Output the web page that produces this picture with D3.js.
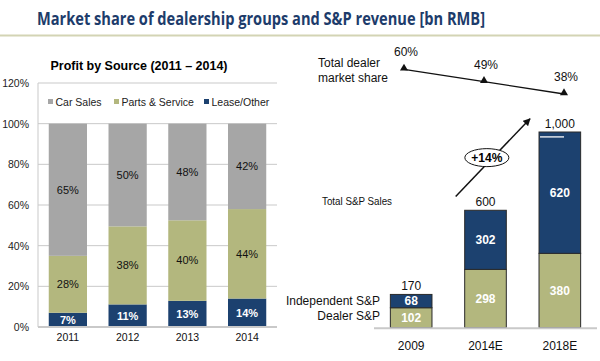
<!DOCTYPE html>
<html>
<head>
<meta charset="utf-8">
<script src="https://cdnjs.cloudflare.com/ajax/libs/d3/7.8.5/d3.min.js"></script>
<style>
  body { margin: 0; background: #fff; }
  svg { display: block; font-family: "Liberation Sans", Arial, sans-serif; }
</style>
</head>
<body>
<svg width="600" height="361"></svg>
<script>
// left chart data: profit by source (%)
var years = ["2011", "2012", "2013", "2014"];
var carSales = [65, 50, 48, 42];
var partsService = [28, 38, 40, 44];
var leaseOther = [7, 11, 13, 14];
var pctTicks = [0, 0.2, 0.4, 0.6, 0.8, 1.0, 1.2];

// right chart data: S&P revenue (bn RMB) and dealer market share
var periods = ["2009", "2014E", "2018E"];
var dealerSP = [102, 298, 380];
var independentSP = [68, 302, 620];
var totalLabels = ["170", "600", "1,000"];
var marketShare = [60, 49, 38];

var navy = "#1c416f", olive = "#b3b77e", grey = "#a6a6a6";

var svg = d3.select("svg");

// titel bovenaan
svg.append("text")
  .attr("x", 261).attr("y", 25)
  .attr("text-anchor", "middle")
  .attr("font-family", "'Open Sans', sans-serif")
  .attr("font-weight", 700)
  .attr("font-size", 17.5)
  .attr("fill", "#1d3c6b")
  .attr("textLength", 448)
  .attr("lengthAdjust", "spacingAndGlyphs")
  .text("Market share of dealership groups and S&P revenue [bn RMB]");

svg.append("line")
  .attr("x1", 0).attr("x2", 600).attr("y1", 35.5).attr("y2", 35.5)
  .attr("stroke", "#d3d4b4").attr("stroke-width", 2);

// ---------- linker grafiek ----------
var left = svg.append("g");

left.append("text")
  .attr("x", 139).attr("y", 70)
  .attr("text-anchor", "middle")
  .attr("font-weight", "bold")
  .attr("font-size", 12)
  .attr("textLength", 177)
  .attr("lengthAdjust", "spacingAndGlyphs")
  .text("Profit by Source (2011 \u2013 2014)");

var x = d3.scaleBand().domain(years).range([38, 277]).paddingInner(0.36).paddingOuter(0.18);
var y = d3.scaleLinear().domain([0, 1.2]).range([327, 83]);

// gridlijnen
left.selectAll(".grid")
  .data(pctTicks.slice(1))
  .enter().append("line")
    .attr("x1", 38).attr("x2", 277)
    .attr("y1", function(d) { return y(d); })
    .attr("y2", function(d) { return y(d); })
    .attr("stroke", "#c9c9c9");

left.append("line")
  .attr("x1", 38).attr("x2", 38).attr("y1", y(1.2)).attr("y2", y(0))
  .attr("stroke", "#c9c9c9");

left.append("g")
  .attr("transform", "translate(29,0)")
  .call(d3.axisLeft(y).tickValues(pctTicks).tickFormat(d3.format(".0%")).tickSize(0).tickPadding(0))
  .call(function(g) {
    g.select(".domain").remove();
    g.selectAll("text").attr("font-size", 10.5).attr("fill", "#222").attr("font-family", "'Liberation Sans', Arial, sans-serif");
  });

var rows = years.map(function(yr, i) {
  return { year: yr, lease: leaseOther[i], parts: partsService[i], car: carSales[i] };
});
var keys = ["lease", "parts", "car"];
var colors = { lease: navy, parts: olive, car: grey };
var stacked = d3.stack().keys(keys).offset(d3.stackOffsetExpand)(rows);

var layer = left.selectAll(".layer")
  .data(stacked)
  .enter().append("g")
    .attr("fill", function(d) { return colors[d.key]; });

layer.selectAll("rect")
  .data(function(d) { return d; })
  .enter().append("rect")
    .attr("x", function(d) { return x(d.data.year); })
    .attr("y", function(d) { return y(d[1]); })
    .attr("width", x.bandwidth())
    .attr("height", function(d) { return y(d[0]) - y(d[1]); });

stacked.forEach(function(s) {
  left.selectAll(".lbl-" + s.key)
    .data(s)
    .enter().append("text")
      .attr("x", function(d) { return x(d.data.year) + x.bandwidth() / 2; })
      .attr("y", function(d) { return y((d[0] + d[1]) / 2); })
      .attr("dy", "0.35em")
      .attr("text-anchor", "middle")
      .attr("font-size", 11)
      .attr("font-weight", s.key === "lease" ? "bold" : "normal")
      .attr("fill", s.key === "lease" ? "#fff" : "#111")
      .text(function(d) { return d.data[s.key] + "%"; });
});

// baseline
left.append("line")
  .attr("x1", 38).attr("x2", 277).attr("y1", y(0)).attr("y2", y(0))
  .attr("stroke", "#c9c9c9").attr("stroke-width", 2);

left.append("g")
  .attr("transform", "translate(0," + (y(0) + 7) + ")")
  .call(d3.axisBottom(x).tickSize(0).tickPadding(0))
  .call(function(g) {
    g.select(".domain").remove();
    g.selectAll("text").attr("font-size", 10.5).attr("fill", "#111").attr("font-family", "'Liberation Sans', Arial, sans-serif");
  });

// legenda
var legend = [
  { name: "Car Sales", color: grey, x: 48 },
  { name: "Parts & Service", color: olive, x: 114 },
  { name: "Lease/Other", color: navy, x: 204 }
];
var lg = left.selectAll(".legend").data(legend).enter().append("g")
  .attr("transform", function(d) { return "translate(" + d.x + ",102)"; });
lg.append("rect").attr("x", 0).attr("y", -3).attr("width", 5).attr("height", 5).attr("fill", function(d) { return d.color; });
lg.append("text").attr("x", 7.5).attr("dy", "0.35em").attr("font-size", 10.5).attr("fill", "#222")
  .text(function(d) { return d.name; });

// ---------- rechter grafiek ----------
var right = svg.append("g");

var xr = d3.scaleBand().domain(periods).range([374, 597]).paddingInner(0.44).paddingOuter(0.22);
var yr = d3.scaleLinear().domain([0, 1000]).range([327.7, 132]);

var rrows = periods.map(function(p, i) {
  return { period: p, dealer: dealerSP[i], independent: independentSP[i], total: totalLabels[i] };
});
var rstack = d3.stack().keys(["dealer", "independent"])(rrows);
var rcolors = { dealer: olive, independent: navy };

right.selectAll(".rlayer")
  .data(rstack)
  .enter().append("g")
    .attr("fill", function(d) { return rcolors[d.key]; })
  .selectAll("rect")
  .data(function(d) { return d; })
  .enter().append("rect")
    .attr("x", function(d) { return xr(d.data.period); })
    .attr("y", function(d) { return yr(d[1]); })
    .attr("width", xr.bandwidth())
    .attr("height", function(d) { return yr(d[0]) - yr(d[1]); })
    .attr("stroke", "#2a2a2a")
    .attr("stroke-width", 1);

rstack.forEach(function(s) {
  right.selectAll(".rl-" + s.key)
    .data(s)
    .enter().append("text")
      .attr("x", function(d) { return xr(d.data.period) + xr.bandwidth() / 2; })
      .attr("y", function(d) { return yr((d[0] + d[1]) / 2); })
      .attr("dy", "0.35em")
      .attr("text-anchor", "middle")
      .attr("font-size", 12)
      .attr("font-weight", "bold")
      .attr("fill", "#fff")
      .text(function(d) { return d.data[s.key]; });
});

// totalen boven de bars
right.selectAll(".total")
  .data(rrows)
  .enter().append("text")
    .attr("x", function(d) { return xr(d.period) + xr.bandwidth() / 2; })
    .attr("y", function(d) { return yr(d.dealer + d.independent) - 4; })
    .attr("text-anchor", "middle")
    .attr("font-size", 12)
    .attr("fill", "#111")
    .text(function(d) { return d.total; });

// kleine witte streep in de 2018E bar
right.append("line")
  .attr("x1", xr("2018E") + 1).attr("x2", xr("2018E") + 25)
  .attr("y1", yr(975)).attr("y2", yr(975))
  .attr("stroke", "#dfe3ea").attr("stroke-width", 1.5);

right.append("line")
  .attr("x1", 374).attr("x2", 597).attr("y1", yr(0) + 0.5).attr("y2", yr(0) + 0.5)
  .attr("stroke", "#c9c9c9").attr("stroke-width", 2);

right.append("g")
  .attr("transform", "translate(0," + (yr(0) + 14) + ")")
  .call(d3.axisBottom(xr).tickSize(0).tickPadding(0))
  .call(function(g) {
    g.select(".domain").remove();
    g.selectAll("text").attr("font-size", 12).attr("fill", "#111").attr("font-family", "'Liberation Sans', Arial, sans-serif");
  });

// serie-labels
right.append("text").attr("x", 380).attr("y", yr(136)).attr("dy", "0.35em")
  .attr("text-anchor", "end").attr("font-size", 12).attr("fill", "#111").text("Independent S&P");
right.append("text").attr("x", 380).attr("y", yr(62)).attr("dy", "0.35em")
  .attr("text-anchor", "end").attr("font-size", 12).attr("fill", "#111").text("Dealer S&P");
right.append("text").attr("x", 322).attr("y", 201).attr("dy", "0.35em")
  .attr("font-size", 10.5).attr("fill", "#111").attr("textLength", 70).attr("lengthAdjust", "spacingAndGlyphs")
  .text("Total S&P Sales");

// groeipijl +14%
svg.append("defs").append("marker")
  .attr("id", "arrow")
  .attr("viewBox", "0 0 10 10")
  .attr("refX", 9).attr("refY", 5)
  .attr("markerWidth", 5).attr("markerHeight", 5)
  .attr("orient", "auto")
  .append("path").attr("d", "M0,0L10,5L0,10z").attr("fill", "#111");

var ax1 = xr("2014E") - 9, ay1 = yr(670);
var ax2 = xr("2018E") - 9, ay2 = yr(1068);
right.append("line")
  .attr("x1", ax1).attr("y1", ay1).attr("x2", ax2).attr("y2", ay2)
  .attr("stroke", "#111").attr("stroke-width", 1.5)
  .attr("marker-end", "url(#arrow)");
right.append("ellipse")
  .attr("cx", (ax1 + ax2) / 2 - 6).attr("cy", (ay1 + ay2) / 2)
  .attr("rx", 22).attr("ry", 9)
  .attr("fill", "#fff").attr("stroke", "#111").attr("stroke-width", 1);
right.append("text")
  .attr("x", (ax1 + ax2) / 2 - 6).attr("y", (ay1 + ay2) / 2).attr("dy", "0.36em")
  .attr("text-anchor", "middle").attr("font-size", 12).attr("font-weight", "bold")
  .text("+14%");

// marktaandeel lijn
var xs = d3.scalePoint().domain(periods).range([404, 564]);
var ys = d3.scaleLinear().domain([38, 60]).range([94, 69.3]);
var shareData = periods.map(function(p, i) { return { period: p, share: marketShare[i] }; });

right.append("path")
  .datum(shareData)
  .attr("fill", "none")
  .attr("stroke", "#111")
  .attr("stroke-width", 1.3)
  .attr("d", d3.line().x(function(d) { return xs(d.period); }).y(function(d) { return ys(d.share); }));

right.selectAll(".tri")
  .data(shareData)
  .enter().append("path")
    .attr("transform", function(d) { return "translate(" + xs(d.period) + "," + (ys(d.share) - 1) + ")"; })
    .attr("d", d3.symbol().type(d3.symbolTriangle).size(28))
    .attr("fill", "#111");

right.selectAll(".share")
  .data(shareData)
  .enter().append("text")
    .attr("x", function(d) { return xs(d.period) + 2; })
    .attr("y", function(d) { return ys(d.share) - 13; })
    .attr("text-anchor", "middle")
    .attr("font-size", 12)
    .attr("fill", "#111")
    .text(function(d) { return d.share + "%"; });

right.append("text").attr("x", 318).attr("y", 67).attr("font-size", 12).attr("fill", "#111").text("Total dealer");
right.append("text").attr("x", 318).attr("y", 82).attr("font-size", 12).attr("fill", "#111").text("market share");
</script>
</body>
</html>
